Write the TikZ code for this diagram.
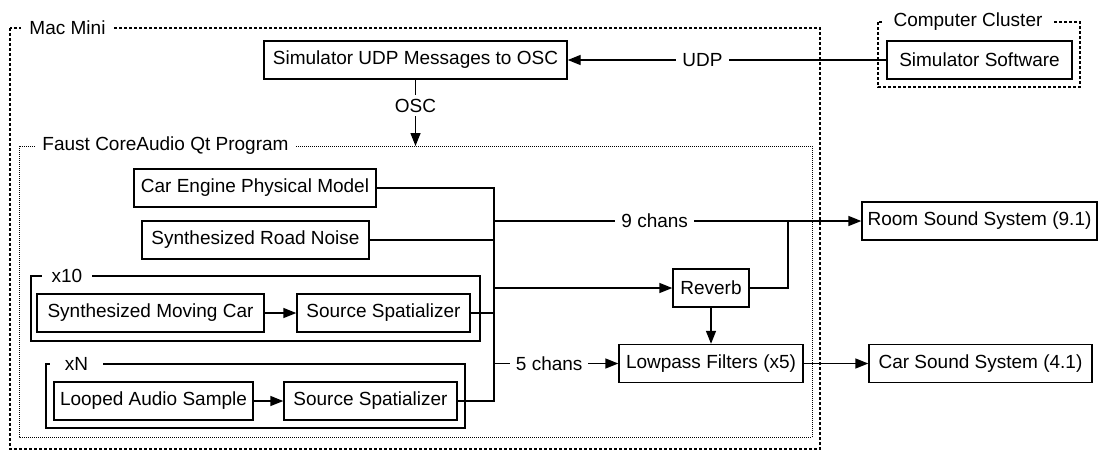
\documentclass[tikz,border=0pt]{standalone}
\usepackage{fontspec}
\setmainfont{Liberation Sans}
\usetikzlibrary{arrows.meta}
\begin{document}
\begin{tikzpicture}[x=1pt,y=-1pt,
  every node/.style={font=\fontsize{19}{22}\selectfont},
  box/.style={draw, line width=1.4pt, inner sep=0pt, minimum height=38pt},
  conn/.style={line width=1.4pt},
  arr/.style={conn, -{Triangle[length=13pt,width=10pt]}},
  lbl/.style={fill=white, inner xsep=6pt, inner ysep=2pt},
  grp/.style={fill=white, inner xsep=0pt, inner ysep=2pt},
  macline/.style={line width=1.4pt, dash pattern=on 3pt off 2pt},
  faustline/.style={line width=1pt, dash pattern=on 1pt off 1pt},
  solidgrp/.style={line width=1.4pt}
]
\useasboundingbox (0,0) rectangle (1099,453);

% containers
\draw[macline] (10,28) rectangle (820,449);
\node[grp, minimum width=93pt] (maclbl) at (67.5,28) {Mac Mini};
\draw[macline] (878,22) rectangle (1080,87);
\node[grp, minimum width=168pt] (cluslbl) at (968,22) {Computer Cluster};
\draw[faustline] (19,146) rectangle (812,437);
\node[grp, minimum width=261pt] (faustlbl) at (165.5,146) {Faust CoreAudio Qt Program};
\draw[solidgrp] (31,276) rectangle (480,341);
\node[grp, minimum width=50pt] (xtenlbl) at (67,276) {x10};
\draw[solidgrp] (46,364) rectangle (465,428);
\node[grp, minimum width=53pt] (xnlbl) at (76.5,364) {xN};

% boxes
\node[box, minimum width=303pt] (udp) at (415.5,60) {Simulator UDP Messages to OSC};
\node[box, minimum width=185pt] (sim) at (979.5,60) {Simulator Software};
\node[box, minimum width=242pt] (engine) at (255,188) {Car Engine Physical Model};
\node[box, minimum width=227pt] (road) at (255.5,240) {Synthesized Road Noise};
\node[box, minimum width=227pt] (mcar) at (150.5,313) {Synthesized Moving Car};
\node[box, minimum width=173pt] (spa) at (383.5,313) {Source Spatializer};
\node[box, minimum width=199pt] (loop) at (153.5,401) {Looped Audio Sample};
\node[box, minimum width=173pt] (spb) at (370.5,401) {Source Spatializer};
\node[box, minimum width=76pt] (reverb) at (711,288) {Reverb};
\node[box, minimum width=184pt] (lowpass) at (711,363.5) {Lowpass Filters (x5)};
\node[box, minimum width=235pt] (room) at (979.5,221) {Room Sound System (9.1)};
\node[box, minimum width=223pt] (car) at (980.5,363.5) {Car Sound System (4.1)};

\coordinate (ftop) at (415.5,146);
\coordinate (bt) at (494,188);
\coordinate (bb) at (494,401);
\coordinate (rj) at (788,221);

% connectors
\draw[arr] (sim.west) -- node[lbl, pos=0.577] {UDP} (udp.east);
\draw[arr] (udp.south) -- node[lbl, pos=0.39, inner ysep=4pt] {OSC} (ftop);
\draw[arr] (mcar.east) -- (spa.west);
\draw[arr] (loop.east) -- (spb.west);
\draw[conn] (engine.east) -- (bt) -- (bb) -- (spb.east);
\draw[conn] (road.east) -- (road.east -| bt);
\draw[conn] (spa.east) -- (spa.east -| bt);
\draw[arr] (bt |- room.west) -- node[lbl, pos=0.4375] {9 chans} (room.west);
\draw[arr] (bt |- reverb.west) -- (reverb.west);
\draw[conn] (reverb.east) -| (rj);
\draw[arr] (reverb.south) -- (lowpass.north);
\draw[arr] (bt |- lowpass.west) -- node[lbl, pos=0.444] {5 chans} (lowpass.west);
\draw[arr] (lowpass.east) -- (car.west);
\end{tikzpicture}
\end{document}
